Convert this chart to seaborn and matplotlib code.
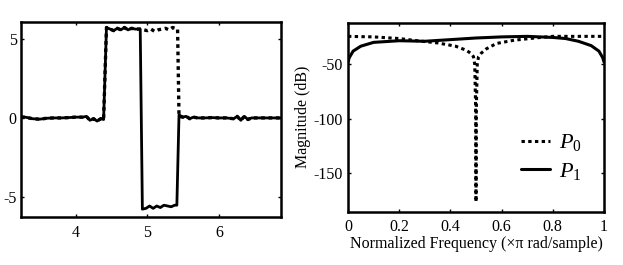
import numpy as np
import pandas as pd
import matplotlib
matplotlib.use("Agg")
import matplotlib.pyplot as plt
import seaborn as sns

# ---------------- data ----------------
# left panel: time signal (solid) and its counterpart (dotted)
t_solid = [3.24, 3.30, 3.40, 3.50, 3.60, 3.70, 3.80, 3.90, 4.00, 4.10, 4.15, 4.20,
           4.25, 4.30, 4.35, 4.39, 4.43, 4.48, 4.53, 4.58, 4.63, 4.68, 4.73, 4.78,
           4.83, 4.90, 4.93, 4.98, 5.03, 5.08, 5.13, 5.18, 5.23, 5.28, 5.33, 5.38,
           5.41, 5.44, 5.49, 5.54, 5.59, 5.64, 5.70, 5.80, 5.90, 6.00, 6.10, 6.20,
           6.25, 6.30, 6.35, 6.40, 6.45, 6.50, 6.60, 6.70, 6.86]
v_solid = [0.05, 0.05, -0.05, -0.08, -0.02, 0.0, 0.0, 0.02, 0.05, 0.05, 0.10, -0.15,
           -0.05, -0.20, -0.05, -0.10, 5.75, 5.65, 5.55, 5.70, 5.60, 5.75, 5.60, 5.70,
           5.65, 5.65, -5.80, -5.75, -5.60, -5.75, -5.60, -5.70, -5.55, -5.60, -5.65, -5.55,
           -5.55, 0.20, 0.05, 0.10, -0.05, 0.05, 0.0, 0.0, 0.02, 0.0, 0.0, -0.05,
           0.10, -0.15, 0.10, -0.10, 0.0, 0.0, 0.0, 0.0, 0.0]

t_dot = [3.24, 3.30, 3.40, 3.50, 3.60, 3.70, 3.80, 3.90, 4.00, 4.10, 4.15, 4.20,
         4.25, 4.30, 4.35, 4.39, 4.43, 4.48, 4.53, 4.58, 4.63, 4.68, 4.73, 4.78,
         4.83, 4.90, 4.95, 5.00, 5.05, 5.10, 5.15, 5.20, 5.25, 5.30, 5.35, 5.42,
         5.44, 5.49, 5.54, 5.59, 5.64, 5.70, 5.80, 5.90, 6.00, 6.10, 6.20, 6.25,
         6.30, 6.35, 6.40, 6.45, 6.50, 6.60, 6.70, 6.86]
v_dot = [0.05, 0.05, -0.05, -0.08, -0.02, 0.0, 0.0, 0.02, 0.05, 0.05, 0.10, -0.15,
         -0.05, -0.20, -0.05, -0.10, 5.75, 5.65, 5.55, 5.70, 5.60, 5.75, 5.60, 5.70,
         5.65, 5.65, 5.60, 5.55, 5.65, 5.50, 5.60, 5.65, 5.70, 5.60, 5.75, 5.65,
         0.10, 0.05, 0.10, -0.05, 0.05, 0.0, 0.0, 0.02, 0.0, 0.0, -0.05, 0.10,
         -0.15, 0.10, -0.10, 0.0, 0.0, 0.0, 0.0, 0.0]

# right panel: magnitude responses
f_p0 = [0.0, 0.10, 0.20, 0.27, 0.35, 0.42, 0.46, 0.48, 0.49, 0.495, 0.4995, 0.5,
        0.5005, 0.505, 0.51, 0.52, 0.54, 0.58, 0.65, 0.73, 0.80, 1.0]
db_p0 = [-24.5, -25.0, -26.5, -28.5, -30.5, -33.5, -37.0, -40.0, -43.0, -50.0, -100.0, -176.0,
         -100.0, -50.0, -43.0, -40.0, -36.0, -31.0, -28.0, -26.0, -24.5, -24.5]

f_p1 = [0.0, 0.005, 0.02, 0.05, 0.10, 0.20, 0.30, 0.40, 0.50, 0.60, 0.70, 0.80,
        0.85, 0.90, 0.95, 0.98, 0.995, 1.0]
db_p1 = [-48.0, -44.0, -38.0, -33.5, -30.0, -28.5, -29.0, -27.5, -26.0, -25.0, -24.5, -25.5,
         -26.5, -29.0, -33.0, -38.0, -44.0, -48.0]

series_labels = [r"$P_{\mathit{0}}$", r"$P_{\mathit{1}}$"]

# ---------------- style ----------------
sns.set_theme(style="ticks")
plt.rcParams.update({
    "font.family": ["Liberation Serif", "DejaVu Serif"],
    "mathtext.fontset": "custom",
    "mathtext.rm": "Liberation Serif",
    "mathtext.it": "Liberation Serif:italic",
    "mathtext.bf": "Liberation Serif:bold",
    "axes.unicode_minus": False,
    "font.size": 11.5,
    "xtick.labelsize": 11.5,
    "ytick.labelsize": 11.5,
    "axes.labelsize": 11.5,
    "xtick.direction": "in",
    "ytick.direction": "in",
    "xtick.top": True,
    "ytick.right": True,
    "xtick.major.size": 2.5,
    "ytick.major.size": 2.5,
    "xtick.major.width": 1.0,
    "ytick.major.width": 1.0,
    "axes.linewidth": 1.8,
    "axes.edgecolor": "black",
    "xtick.color": "black",
    "ytick.color": "black",
    "text.color": "black",
    "axes.labelcolor": "black",
})

fig = plt.figure(figsize=(6.23, 2.65), dpi=100)
ax1 = fig.add_axes([21 / 623, 48 / 265, 260 / 623, 195 / 265])
ax2 = fig.add_axes([348 / 623, 53.3 / 265, 256 / 623, 189 / 265])

dots = (1.1, 1.1)

# ---------------- left: time signals ----------------
sns.lineplot(x=t_solid, y=v_solid, ax=ax1, color="black", lw=2.0,
             sort=False, estimator=None)
sns.lineplot(x=t_dot, y=v_dot, ax=ax1, color="black", lw=2.4,
             sort=False, estimator=None, dashes=False)
ax1.lines[-1].set_dashes(dots)
ax1.set_xlim(3.24, 6.86)
ax1.set_ylim(-6.3, 6.1)
ax1.set_xticks([4, 5, 6])
ax1.set_yticks([-5, 0, 5])
ax1.tick_params(axis="x", pad=6)
ax1.tick_params(axis="y", pad=3)

# ---------------- right: frequency responses ----------------
resp = pd.concat([
    pd.DataFrame({"f": f_p0, "db": db_p0, "filt": series_labels[0]}),
    pd.DataFrame({"f": f_p1, "db": db_p1, "filt": series_labels[1]}),
])
sns.lineplot(data=resp, x="f", y="db", hue="filt", style="filt",
             palette=["black", "black"], dashes=[dots, ""],
             sort=False, estimator=None, ax=ax2, lw=2.2)
ax2.set_xlim(0, 1)
ax2.set_ylim(-185, -12)
ax2.set_xticks([0, 0.2, 0.4, 0.6, 0.8, 1])
ax2.set_xticklabels(["0", "0.2", "0.4", "0.6", "0.8", "1"])
ax2.set_yticks([-150, -100, -50])
ax2.set_xlabel("Normalized Frequency (\u00d7\u03c0 rad/sample)", labelpad=1)
ax2.set_ylabel("Magnitude (dB)", labelpad=2)
ax2.tick_params(axis="x", pad=5)

handles, labels = ax2.get_legend_handles_labels()
ax2.legend(handles, labels, loc="lower right", bbox_to_anchor=(0.99, 0.05),
           frameon=False, fontsize=16, handlelength=1.3, handletextpad=0.4,
           labelspacing=0.35)

fig.savefig("out.png", dpi=100)
